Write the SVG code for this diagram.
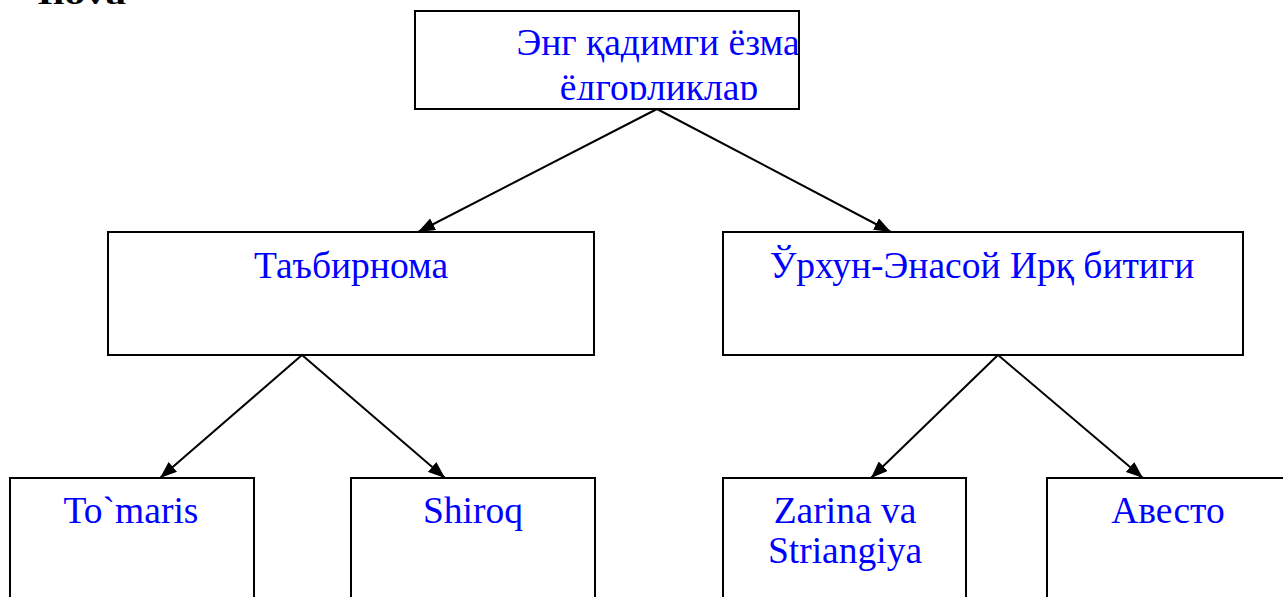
<svg xmlns="http://www.w3.org/2000/svg" width="1283" height="597" viewBox="0 0 1283 597">
<style>
.box{fill:#fff;stroke:#000;stroke-width:2}
.t{font-family:"Liberation Serif","Times New Roman",serif;font-size:37.5px;fill:#0000ff;text-anchor:middle}
.c{stroke:#000;stroke-width:2;fill:none}
</style>
<defs>
<marker id="a" viewBox="0 0 17 13" refX="17" refY="6.5" markerWidth="17" markerHeight="13" markerUnits="userSpaceOnUse" orient="auto">
<path d="M0,0 L17,6.5 L0,13 Z" fill="#000"/>
</marker>
<clipPath id="topclip"><rect x="416" y="12" width="382" height="88"/></clipPath>
</defs>
<text x="37" y="4" font-family="Liberation Serif, serif" font-weight="bold" font-size="30" fill="#000" textLength="89" lengthAdjust="spacingAndGlyphs">Ilova</text>
<g id="connectors">
<line class="c" x1="657" y1="109" x2="418" y2="232" marker-end="url(#a)"/>
<line class="c" x1="657" y1="109" x2="891" y2="232" marker-end="url(#a)"/>
<line class="c" x1="302" y1="355" x2="160" y2="478" marker-end="url(#a)"/>
<line class="c" x1="302" y1="355" x2="445" y2="478" marker-end="url(#a)"/>
<line class="c" x1="998" y1="355" x2="871" y2="478" marker-end="url(#a)"/>
<line class="c" x1="998" y1="355" x2="1143" y2="478" marker-end="url(#a)"/>
</g>
<g id="n-top">
<rect class="box" x="415" y="11" width="384" height="98"/>
<g clip-path="url(#topclip)">
<text class="t" x="658" y="55">Энг қадимги ёзма</text>
<text class="t" x="659" y="100">ёдгорликлар</text>
</g>
</g>
<g id="n-tabirnoma">
<rect class="box" x="108" y="232" width="486" height="123"/>
<text class="t" x="351" y="278">Таъбирнома</text>
</g>
<g id="n-urhun">
<rect class="box" x="723" y="232" width="520" height="123"/>
<text class="t" x="982" y="278">Ўрхун-Энасой Ирқ битиги</text>
</g>
<g id="n-tomaris">
<rect class="box" x="10" y="478" width="244" height="130"/>
<text class="t" x="131" y="523">To`maris</text>
</g>
<g id="n-shiroq">
<rect class="box" x="351" y="478" width="244" height="130"/>
<text class="t" x="473" y="523">Shiroq</text>
</g>
<g id="n-zarina">
<rect class="box" x="723" y="478" width="243" height="130"/>
<text class="t" x="845" y="523">Zarina va</text>
<text class="t" x="845" y="563">Striangiya</text>
</g>
<g id="n-avesto">
<rect class="box" x="1047" y="478" width="244" height="130"/>
<text class="t" x="1168" y="523">Авесто</text>
</g>
</svg>
